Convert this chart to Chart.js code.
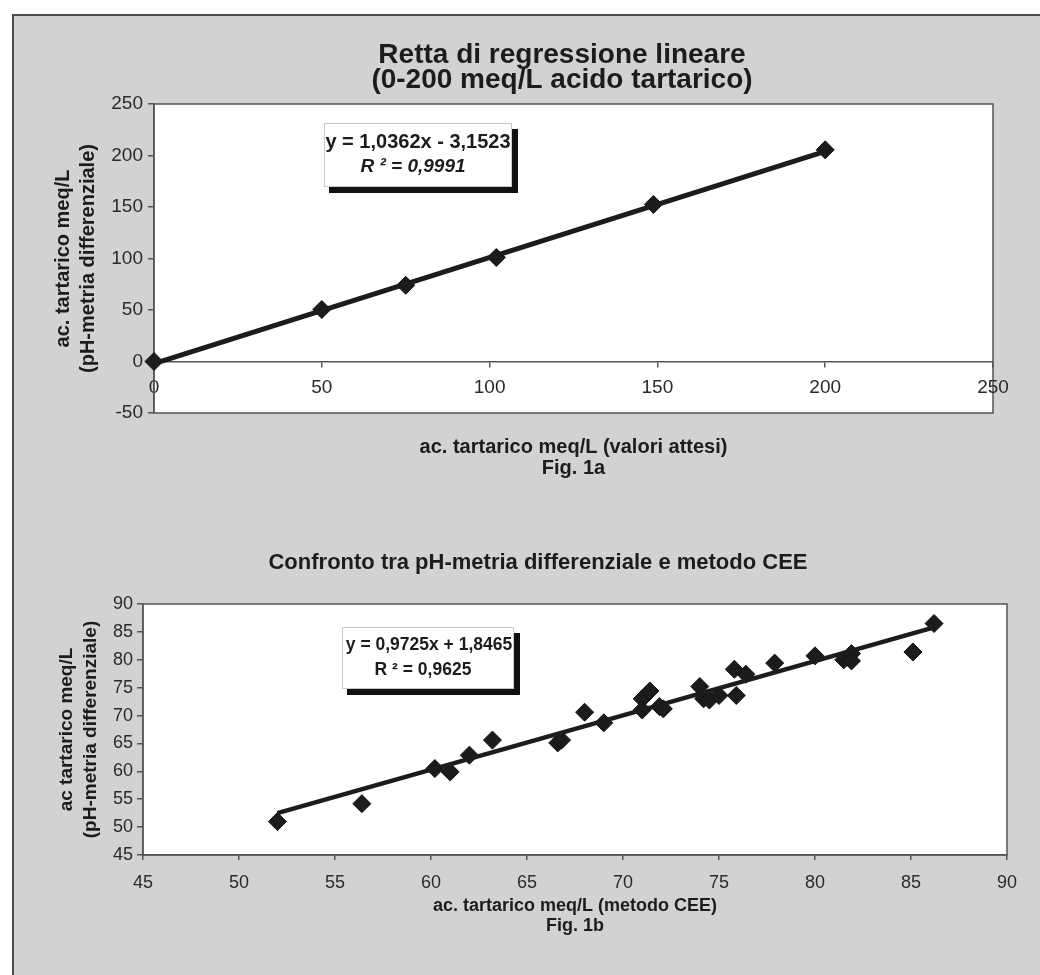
<!DOCTYPE html>
<html>
<head>
<meta charset="utf-8">
<script src="https://cdn.jsdelivr.net/npm/chart.js@4.4.0/dist/chart.umd.min.js"></script>
<style>
  html, body { margin: 0; padding: 0; background: #fff; width: 1040px; height: 975px; overflow: hidden; }
  #frame { position: absolute; left: 12px; top: 14px; width: 1040px; height: 980px; background: #d1d2d4;
           border-left: 2px solid #4d4d4d; border-top: 2px solid #4d4d4d; }
  canvas { position: absolute; left: 0; }
  #fig1a { top: 0; }
  #fig1b { top: 490px; }
</style>
</head>
<body>
<div id="frame"></div>
<canvas id="fig1a" width="1040" height="490"></canvas>
<canvas id="fig1b" width="1040" height="485"></canvas>
<script>
// Fig. 1a - valori attesi vs pH-metria differenziale
const attesi = [0, 50, 75, 102, 148.8, 200];
const misurati = [0, 50.5, 74, 101, 152.5, 205.5];
const trend1X = [0, 200];
const trend1Y = [-2, 204];
const ticks1X = [0, 50, 100, 150, 200, 250];
const ticks1Y = [-50, 0, 50, 100, 150, 200, 250];

// Fig. 1b - metodo CEE vs pH-metria differenziale
const metodoCEE = [52.0, 56.4, 60.2, 61.0, 62.0, 63.2, 66.6, 66.8, 68.0, 69.0, 71.0, 71.4, 71.0, 71.9, 72.1,
                   74.0, 74.2, 74.5, 75.0, 75.8, 75.9, 76.4, 77.9, 80.0, 81.5, 81.9, 81.9, 85.1, 86.2];
const phMetria = [51.0, 54.2, 60.5, 59.9, 62.9, 65.6, 65.1, 65.6, 70.6, 68.7, 73.0, 74.4, 71.0, 71.6, 71.2,
                  75.2, 73.0, 72.8, 73.6, 78.3, 73.6, 77.4, 79.4, 80.7, 80.0, 81.1, 79.8, 81.4, 86.5];
const trend2X = [52, 86.2];
const trend2Y = [52.5, 85.8];
const ticks2 = [45, 50, 55, 60, 65, 70, 75, 80, 85, 90];

const FONT = '"Liberation Sans", Arial, Helvetica, sans-serif';
const INK = '#1c1c1c';
const AXIS = '#555';

const toPoints = (xs, ys) => xs.map((v, i) => ({ x: v, y: ys[i] }));
const setTicks = list => scale => { scale.ticks = list.map(v => ({ value: v })); };

// white plot area with its frame
const plotFrame = {
  id: 'plotFrame',
  beforeDraw(chart) {
    const { ctx, chartArea: a } = chart;
    ctx.save();
    ctx.fillStyle = '#fff';
    ctx.fillRect(a.left, a.top, a.right - a.left, a.bottom - a.top);
    ctx.strokeStyle = AXIS;
    ctx.lineWidth = 1.5;
    ctx.strokeRect(a.left, a.top, a.right - a.left, a.bottom - a.top);
    ctx.restore();
  }
};

// chart heading, centred on the whole chart object like the original
const heading = {
  id: 'heading',
  afterDraw(chart, args, opts) {
    const { ctx } = chart;
    ctx.save();
    ctx.font = opts.font;
    ctx.fillStyle = INK;
    ctx.textAlign = 'center';
    ctx.textBaseline = 'middle';
    opts.lines.forEach((t, i) => ctx.fillText(t, opts.cx, opts.y + i * opts.lh));
    ctx.restore();
  }
};

// equation label with drop shadow, anchored in data units
const eqBox = {
  id: 'eqBox',
  afterDatasetsDraw(chart, args, opts) {
    const { ctx, scales } = chart;
    const left = Math.round(scales.x.getPixelForValue(opts.atX));
    const top = Math.round(scales.y.getPixelForValue(opts.atY));
    ctx.save();
    ctx.fillStyle = '#111';
    ctx.fillRect(left + 5, top + 6, opts.w + 1, opts.h);
    ctx.fillStyle = '#fff';
    ctx.fillRect(left, top, opts.w, opts.h);
    ctx.strokeStyle = '#c9c9c9';
    ctx.lineWidth = 1;
    ctx.strokeRect(left + 0.5, top + 0.5, opts.w - 1, opts.h - 1);
    ctx.fillStyle = INK;
    ctx.textAlign = 'center';
    ctx.textBaseline = 'middle';
    for (const l of opts.lines) {
      ctx.font = l.font;
      ctx.fillText(l.text, left + opts.w / 2 + l.dx, top + l.dy);
    }
    ctx.restore();
  }
};

Chart.defaults.font.family = FONT;
Chart.defaults.color = '#2a2a2a';

new Chart(document.getElementById('fig1a'), {
  type: 'scatter',
  data: {
    datasets: [{
      data: toPoints(attesi, misurati),
      xAxisID: 'x', yAxisID: 'y',
      pointStyle: 'rectRot', pointRadius: 9,
      backgroundColor: INK, borderColor: '#111', borderWidth: 1,
      clip: false, order: 2
    }, {
      data: toPoints(trend1X, trend1Y),
      xAxisID: 'x', yAxisID: 'y',
      showLine: true, pointRadius: 0,
      borderColor: INK, borderWidth: 5,
      clip: false, order: 1
    }]
  },
  options: {
    responsive: false, animation: false, events: [],
    layout: { padding: { left: 0, right: 47, top: 104, bottom: 0 } },
    plugins: {
      legend: { display: false },
      tooltip: { enabled: false },
      heading: {
        lines: ['Retta di regressione lineare', '(0-200 meq/L acido tartarico)'],
        font: 'bold 28px ' + FONT, cx: 562, y: 55, lh: 25
      },
      eqBox: {
        atX: 50.6, atY: 231.5, w: 188, h: 64,
        lines: [
          { text: 'y = 1,0362x - 3,1523', font: 'bold 20px ' + FONT, dx: 0, dy: 19 },
          { text: 'R ² = 0,9991', font: 'italic bold 19px ' + FONT, dx: -5, dy: 44 }
        ]
      }
    },
    scales: {
      x: {
        type: 'linear', position: { y: 0 }, min: 0, max: 250,
        afterBuildTicks: setTicks(ticks1X),
        ticks: { font: { size: 19 }, padding: 10, maxRotation: 0 },
        grid: { drawOnChartArea: false, tickLength: 5, color: AXIS, lineWidth: 1.5 },
        border: { color: AXIS, width: 1.5 },
        afterFit(s) { s.paddingLeft = 0; s.paddingRight = 0; }
      },
      x2: {
        type: 'linear', axis: 'x', position: 'bottom', min: 0, max: 250,
        ticks: { display: false },
        grid: { display: false },
        border: { display: false },
        title: {
          display: true,
          text: ['ac. tartarico meq/L (valori attesi)', 'Fig. 1a'],
          font: { size: 20, weight: 'bold', lineHeight: '21px' },
          color: INK, padding: { top: 0, bottom: 11.5 }
        },
        afterFit(s) { s.height = 77; s.paddingLeft = 0; s.paddingRight = 0; }
      },
      y: {
        type: 'linear', position: 'left', min: -50, max: 250,
        afterBuildTicks: setTicks(ticks1Y),
        ticks: { font: { size: 19 }, padding: 5 },
        grid: { drawOnChartArea: false, tickLength: 6, color: AXIS, lineWidth: 1.5 },
        border: { color: AXIS, width: 1.5 },
        title: {
          display: true,
          text: ['ac. tartarico meq/L', '(pH-metria differenziale)'],
          font: { size: 20, weight: 'bold', lineHeight: '25px' },
          color: INK, padding: { top: 50.5, bottom: 0 }
        },
        afterFit(s) { s.width = 154; s.paddingTop = 0; s.paddingBottom = 0; }
      }
    }
  },
  plugins: [plotFrame, eqBox, heading]
});

new Chart(document.getElementById('fig1b'), {
  type: 'scatter',
  data: {
    datasets: [{
      data: toPoints(metodoCEE, phMetria),
      pointStyle: 'rectRot', pointRadius: 9,
      backgroundColor: INK, borderColor: '#111', borderWidth: 1,
      order: 2
    }, {
      data: toPoints(trend2X, trend2Y),
      showLine: true, pointRadius: 0,
      borderColor: INK, borderWidth: 4.5,
      order: 1
    }]
  },
  options: {
    responsive: false, animation: false, events: [],
    layout: { padding: { left: 0, right: 33, top: 114, bottom: 0 } },
    plugins: {
      legend: { display: false },
      tooltip: { enabled: false },
      heading: {
        lines: ['Confronto tra pH-metria differenziale e metodo CEE'],
        font: 'bold 22px ' + FONT, cx: 538, y: 73, lh: 25
      },
      eqBox: {
        atX: 55.36, atY: 85.87, w: 172, h: 62,
        lines: [
          { text: 'y = 0,9725x + 1,8465', font: 'bold 17.5px ' + FONT, dx: 1, dy: 18 },
          { text: 'R ² = 0,9625', font: 'bold 17.5px ' + FONT, dx: -5, dy: 43 }
        ]
      }
    },
    scales: {
      x: {
        type: 'linear', position: 'bottom', min: 45, max: 90,
        afterBuildTicks: setTicks(ticks2),
        ticks: { font: { size: 18 }, padding: 12, maxRotation: 0 },
        grid: { drawOnChartArea: false, tickLength: 5, color: AXIS, lineWidth: 1.5 },
        border: { color: AXIS, width: 1.5 },
        title: {
          display: true,
          text: ['ac. tartarico meq/L (metodo CEE)', 'Fig. 1b'],
          font: { size: 18, weight: 'bold', lineHeight: '20px' },
          color: INK, padding: { top: 0, bottom: 39 }
        },
        afterFit(s) { s.height = 120; s.paddingLeft = 0; s.paddingRight = 0; }
      },
      y: {
        type: 'linear', position: 'left', min: 45, max: 90,
        afterBuildTicks: setTicks(ticks2),
        ticks: { font: { size: 18 }, padding: 4 },
        grid: { drawOnChartArea: false, tickLength: 6, color: AXIS, lineWidth: 1.5 },
        border: { color: AXIS, width: 1.5 },
        title: {
          display: true,
          text: ['ac tartarico meq/L', '(pH-metria differenziale)'],
          font: { size: 19, weight: 'bold', lineHeight: '24px' },
          color: INK, padding: { top: 55, bottom: 0 }
        },
        afterFit(s) { s.width = 143; s.paddingTop = 0; s.paddingBottom = 0; }
      }
    }
  },
  plugins: [plotFrame, eqBox, heading]
});
</script>
</body>
</html>
